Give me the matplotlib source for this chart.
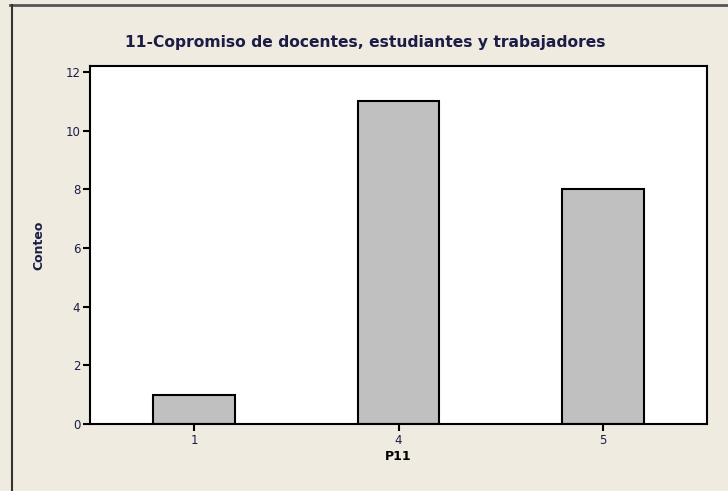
import matplotlib
matplotlib.use('Agg')
import matplotlib.pyplot as plt
from matplotlib.lines import Line2D

# Data
categories = ['1', '4', '5']
counts = [1, 11, 8]
yticks = [0, 2, 4, 6, 8, 10, 12]

bg = '#efebe1'
txt = '#1c1c45'

W, H = 728, 491
fig = plt.figure(figsize=(W / 100, H / 100), dpi=100, facecolor=bg)
ax = fig.add_axes([90 / W, 1 - 424 / H, (707 - 90) / W, (424 - 66) / H])
ax.set_facecolor('white')

x = range(len(categories))
ax.bar(x, counts, width=0.4, color='#c0c0c0', edgecolor='black', linewidth=1.5)

ax.set_xlim(-0.51, 2.51)
ax.set_ylim(0, 12.2)
ax.set_xticks(list(x))
ax.set_xticklabels(categories)
ax.set_yticks(yticks)

for s in ax.spines.values():
    s.set_linewidth(1.5)
    s.set_color('black')
ax.tick_params(direction='out', length=5, width=1.5, colors='black',
               labelcolor=txt, labelsize=8.5, pad=2)

ax.set_xlabel('P11', fontsize=9, fontweight='bold', color='black', labelpad=2)
ax.set_ylabel('Conteo', fontsize=9, fontweight='bold', color=txt, labelpad=14)
fig.text(365 / W, 1 - 43 / H, '11-Copromiso de docentes, estudiantes y trabajadores',
         ha='center', va='center', fontsize=11.2, fontweight='bold', color=txt)

# outer frame (top and left edges)
fig.add_artist(Line2D([10 / W, 1], [1 - 5 / H, 1 - 5 / H], transform=fig.transFigure,
                      color='#555555', linewidth=2))
fig.add_artist(Line2D([12 / W, 12 / W], [0, 1 - 5 / H], transform=fig.transFigure,
                      color='#333333', linewidth=1.5))

fig.savefig('out.png', dpi=100, facecolor=bg)
